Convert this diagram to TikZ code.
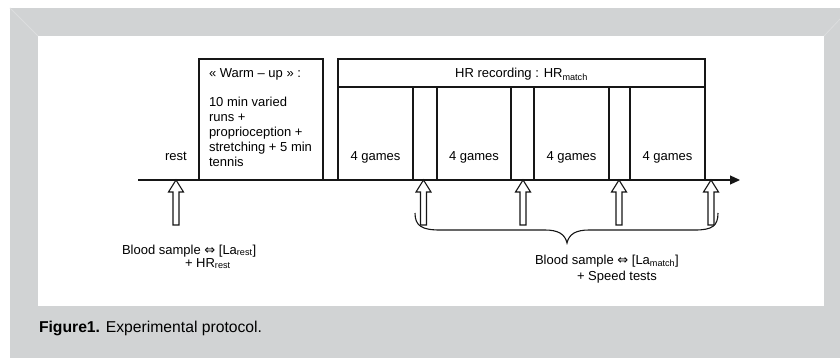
\documentclass[tikz,border=0pt]{standalone}
\usepackage{fontspec}
\setmainfont{Liberation Sans}
\newfontfamily\dejavu{DejaVu Sans}
\usetikzlibrary{arrows.meta}
\definecolor{framegray}{HTML}{D1D3D4}
\definecolor{bevel}{HTML}{DCDDDE}
\definecolor{ink}{HTML}{161616}
\begin{document}
\begin{tikzpicture}[x=1pt,y=-1pt,
  every node/.style={inner sep=0pt, outer sep=0pt, font=\fontsize{13}{15}\selectfont, text=black},
  boxline/.style={draw=ink, line width=1.3pt},
  barrow/.style={draw=ink, fill=white, line width=1.1pt, line join=miter},
  lbl/.style={anchor=base},
  lblw/.style={anchor=base west}]
\useasboundingbox (0,0) rectangle (840,358);
% frame
\fill[framegray] (10,8) rectangle (840,358);
\fill[white] (38,36) rectangle (824,306);
\draw[bevel, line width=0.8pt] (10,8) -- (38,36);
\draw[bevel, line width=0.8pt] (840,19) -- (824,36);
% time axis
\coordinate (ax0) at (138,180);
\coordinate (ax1) at (740,180);
\draw[ink, line width=1.2pt, -{Triangle[length=10pt,width=9pt]}] (ax0) -- (ax1);
% boxes
\node[boxline, anchor=north west, minimum width=124, minimum height=121] (warm) at (199,59) {};
\node[boxline, anchor=north west, minimum width=367, minimum height=121] (hr) at (338,59) {};
\draw[boxline] (hr.west |- 0,87) -- (hr.east |- 0,87);
\node[boxline, anchor=north west, minimum width=75, minimum height=93] (g1) at (338,87) {};
\node[boxline, anchor=north west, minimum width=74, minimum height=93] (g2) at (437,87) {};
\node[boxline, anchor=north west, minimum width=75, minimum height=93] (g3) at (534,87) {};
\node[boxline, anchor=north west, minimum width=75, minimum height=93] (g4) at (630,87) {};
% brace
\coordinate (bl) at (415,213);
\coordinate (btip) at (567,243);
\coordinate (br) at (718,213);
\draw[ink, line width=1.1pt] (bl) .. controls (415,226) and (422,230) .. (440,230) -- (545,230)
  .. controls (558,230) and (565,234) .. (btip)
  .. controls (569,234) and (576,230) .. (589,230) -- (695,230)
  .. controls (712,230) and (718,226) .. (br);
% block arrows
\foreach \n/\x in {t0/176,t1/423.5,t2/523,t3/619,t4/711}{
  \coordinate (\n) at (\x,180);
  \draw[barrow] (\n) -- ++(7.5,12) -- ++(-4.5,0) -- ++(0,33) -- ++(-6,0) -- ++(0,-33) -- ++(-4.5,0) -- cycle;
}
% texts
\node[lbl] (rest) at (176,160.7) {rest};
\node[lblw] (w1) at (209,77.5) {« Warm – up » :};
\node[lblw] (w2) at (209,106.7) {10 min varied};
\node[lblw] (w3) at (209,121.7) {runs +};
\node[lblw] (w4) at (209,136.7) {proprioception +};
\node[lblw] (w5) at (209,151.7) {stretching + 5 min};
\node[lblw] (w6) at (209,166.7) {tennis};
\node[lbl] (hrt) at (521.5,78) {HR recording : HR\textsubscript{match}};
\node[lbl] (l1) at (375.5,160.7) {4 games};
\node[lbl] (l2) at (474,160.7) {4 games};
\node[lbl] (l3) at (571.5,160.7) {4 games};
\node[lbl] (l4) at (667.5,160.7) {4 games};
\node[lblw] (bs1) at (122,254) {Blood sample {\dejavu ⇔} [La\textsubscript{rest}]};
\node[lblw] (bs2) at (185,267) {+ HR\textsubscript{rest}};
\node[lblw] (bm1) at (535,264) {Blood sample {\dejavu ⇔} [La\textsubscript{match}]};
\node[lblw] (bm2) at (577,280) {+ Speed tests};
\node[lblw, font=\fontsize{15.7}{18}\selectfont] (cap) at (39,332.7) {\textbf{Figure1.} Experimental protocol.};
\end{tikzpicture}
\end{document}
